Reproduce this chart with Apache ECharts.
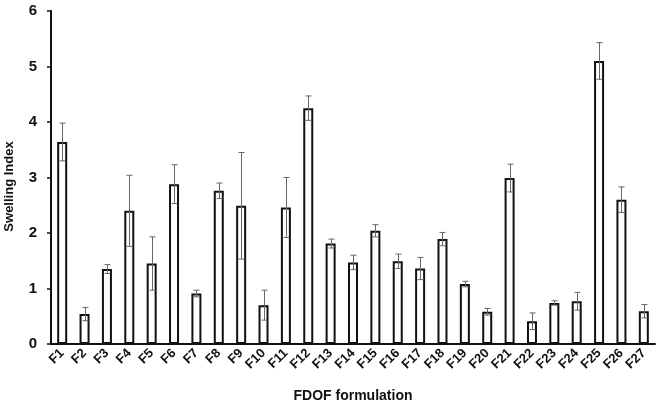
<!DOCTYPE html>
<html>
<head>
<meta charset="utf-8">
<script src="https://cdn.jsdelivr.net/npm/echarts@6/dist/echarts.min.js"></script>
<style>html,body{margin:0;padding:0;background:#fff}#c{width:659px;height:404px}</style>
</head>
<body>
<div id="c"></div>
<script>
var categories = ['F1','F2','F3','F4','F5','F6','F7','F8','F9','F10','F11','F12','F13','F14','F15','F16','F17','F18','F19','F20','F21','F22','F23','F24','F25','F26','F27'];
var swelling = [3.64,0.54,1.35,2.40,1.45,2.88,0.91,2.76,2.49,0.70,2.46,4.25,1.81,1.47,2.04,1.49,1.36,1.89,1.08,0.58,2.99,0.41,0.74,0.77,5.10,2.60,0.59];
var sd = [0.34,0.12,0.08,0.64,0.48,0.35,0.06,0.14,0.96,0.27,0.54,0.22,0.08,0.13,0.11,0.13,0.20,0.12,0.05,0.06,0.25,0.15,0.04,0.16,0.33,0.23,0.12];
var yTicks = [0,1,2,3,4,5,6];

var errData = categories.map(function(c,i){return [i, swelling[i]-sd[i], swelling[i]+sd[i]];});

var chart = echarts.init(document.getElementById('c'), null, {renderer:'canvas'});
chart.setOption({
  animation:false,
  backgroundColor:'#fff',
  grid:{left:51,right:4,top:11,bottom:60,containLabel:false,outerBoundsMode:'none'},
  xAxis:{
    type:'category',
    data:categories,
    axisLine:{lineStyle:{color:'#111',width:2}},
    axisTick:{show:false},
    axisLabel:{rotate:45,fontFamily:'Liberation Sans, Arial',fontWeight:'bold',fontSize:13,color:'#111',margin:7,interval:0},
    name:'FDOF formulation',
    nameLocation:'middle',
    nameGap:45,
    nameTextStyle:{fontFamily:'Liberation Sans, Arial',fontWeight:'bold',fontSize:14,color:'#111'}
  },
  yAxis:{
    type:'value',
    min:yTicks[0],max:yTicks[yTicks.length-1],interval:1,
    splitLine:{show:false},
    axisLine:{show:true,lineStyle:{color:'#111',width:2}},
    axisTick:{show:true,length:4,lineStyle:{color:'#111',width:1.5}},
    axisLabel:{fontFamily:'Liberation Sans, Arial',fontWeight:'bold',fontSize:15,color:'#111',margin:14},
    name:'Swelling Index',
    nameLocation:'middle',
    nameGap:35,
    nameTextStyle:{fontFamily:'Liberation Sans, Arial',fontWeight:'bold',fontSize:13,color:'#111',padding:[0,18,0,0]}
  },
  series:[
    {type:'bar',data:swelling,barWidth:10,
     itemStyle:{color:'#fff',borderColor:'#111',borderWidth:2}},
    {type:'custom',data:errData,z:5,
     renderItem:function(params,api){
       var x=api.value(0),lo=api.coord([x,api.value(1)]),hi=api.coord([x,api.value(2)]);
       var cx=Math.round(lo[0])+0.5,h=3;
       var st={stroke:'#666',lineWidth:1};
       return {type:'group',children:[
         {type:'line',shape:{x1:cx,y1:lo[1],x2:cx,y2:hi[1]},style:st},
         {type:'line',shape:{x1:cx-h,y1:lo[1],x2:cx+h,y2:lo[1]},style:st},
         {type:'line',shape:{x1:cx-h,y1:hi[1],x2:cx+h,y2:hi[1]},style:st}
       ]};
     }}
  ]
});
</script>
</body>
</html>
